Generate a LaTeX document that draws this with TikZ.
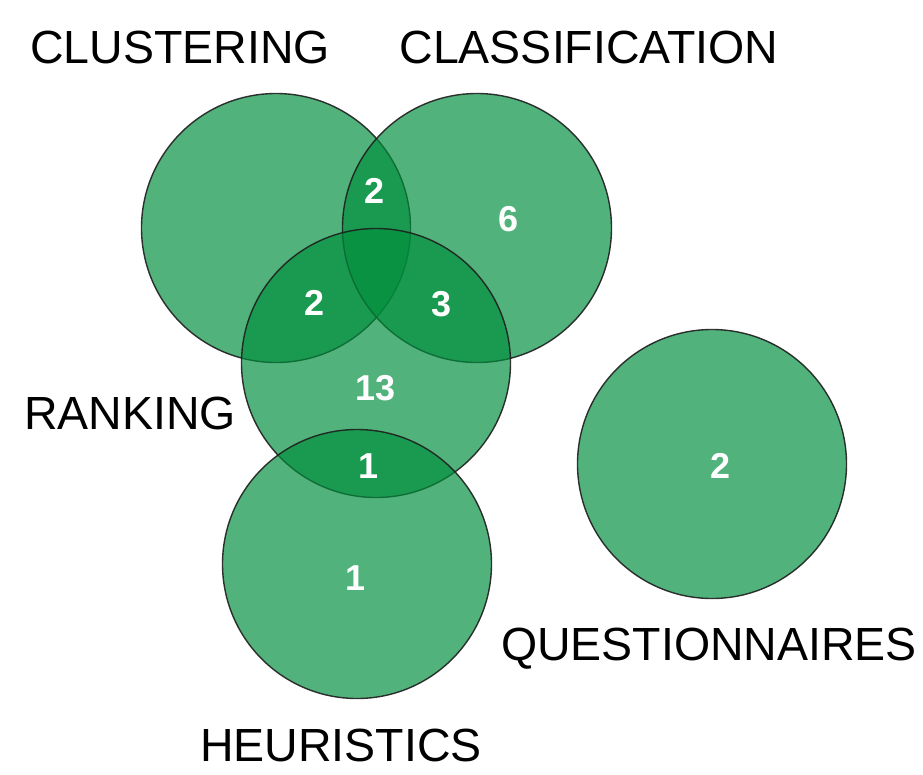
\documentclass[tikz,border=0pt]{standalone}
\usepackage{fontspec}
\setmainfont{Liberation Sans}
\definecolor{venngreen}{RGB}{0,142,60}
\definecolor{edgegrey}{RGB}{30,30,30}
\tikzset{
  setcircle/.style={circle, minimum size=269pt, inner sep=0pt, fill=venngreen, fill opacity=0.68, draw=edgegrey, draw opacity=0.9, line width=1.4pt},
  setlabel/.style={anchor=base, text=black, font=\fontsize{46.5}{50}\selectfont, inner sep=0pt},
  count/.style={anchor=base, text=white, font=\bfseries\fontsize{36}{40}\selectfont, inner sep=0pt}
}
\begin{document}
\begin{tikzpicture}[x=1pt,y=-1pt]
\useasboundingbox (0,0) rectangle (923,774);
\node[setcircle] (clu) at (276,228) {};
\node[setcircle] (cla) at (477,228) {};
\node[setcircle] (ran) at (376,363) {};
\node[setcircle] (heu) at (357,564) {};
\node[setcircle] (que) at (712,464) {};

\node[setlabel] (lclu) at (180,63) {CLUSTERING};
\node[setlabel] (lcla) at (589,63) {CLASSIFICATION};
\node[setlabel] (lran) at (130,429) {RANKING};
\node[setlabel] (lque) at (709,660) {QUESTIONNAIRES};
\node[setlabel] (lheu) at (341,761) {HEURISTICS};

\node[count] (n1) at (375,203) {2};
\node[count] (n2) at (509,231) {6};
\node[count] (n3) at (315,315) {2};
\node[count] (n4) at (442,316) {3};
\node[count] (n5) at (376,400) {13};
\node[count] (n6) at (369,478) {1};
\node[count] (n7) at (356,590) {1};
\node[count] (n8) at (721,478) {2};
\end{tikzpicture}
\end{document}
